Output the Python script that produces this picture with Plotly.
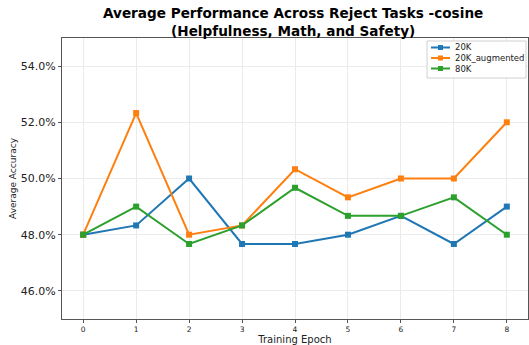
import plotly.graph_objects as go

epochs = [0, 1, 2, 3, 4, 5, 6, 7, 8]
acc_20k = [48.0, 48.33, 50.0, 47.67, 47.67, 48.0, 48.67, 47.67, 49.0]
acc_20k_aug = [48.0, 52.33, 48.0, 48.33, 50.33, 49.33, 50.0, 50.0, 52.0]
acc_80k = [48.0, 49.0, 47.67, 48.33, 49.67, 48.67, 48.67, 49.33, 48.0]

series_names = ["20K", "20K_augmented", "80K"]
series_values = [acc_20k, acc_20k_aug, acc_80k]
series_colors = ["#1f77b4", "#ff7f0e", "#2ca02c"]

y_ticks = [46, 48, 50, 52, 54]
y_tick_text = ["46.0%", "48.0%", "50.0%", "52.0%", "54.0%"]

title_lines = [
    "Average Performance Across Reject Tasks -cosine",
    "(Helpfulness, Math, and Safety)",
]

W, H = 529, 345
M = dict(l=62, r=1, t=38, b=26)
PW, PH = W - M["l"] - M["r"], H - M["t"] - M["b"]


def px_x(x):
    """Pixel column -> paper x fraction."""
    return (x - M["l"]) / PW


def px_y(y):
    """Pixel row (from top) -> paper y fraction."""
    return (H - M["b"] - y) / PH


fig = go.Figure()
for name, vals, color in zip(series_names, series_values, series_colors):
    fig.add_trace(go.Scatter(
        x=epochs, y=vals, name=name, mode="lines+markers",
        line=dict(color=color, width=2),
        marker=dict(symbol="square", size=6, color=color),
        showlegend=False,
    ))

# two-line bold title centred over the plot area
annotations = [dict(
    text="<b>" + "<br>".join(title_lines) + "</b>", xref="paper", yref="paper",
    x=px_x(293), y=px_y(22), xanchor="center", yanchor="middle",
    showarrow=False, borderpad=0, font=dict(size=13.6, color="black"),
)]

# compact legend box in the upper-right corner
shapes = [dict(
    type="rect", xref="paper", yref="paper",
    x0=px_x(427), x1=px_x(526), y0=px_y(78), y1=px_y(41),
    line=dict(color="#d0d0d0", width=1), fillcolor="rgba(255,255,255,0.9)",
    layer="above",
)]
for i, (name, color) in enumerate(zip(series_names, series_colors)):
    yrow = 47.5 + i * 10.5
    shapes.append(dict(
        type="line", xref="paper", yref="paper",
        x0=px_x(431), x1=px_x(450), y0=px_y(yrow), y1=px_y(yrow),
        line=dict(color=color, width=2), layer="above",
    ))
    shapes.append(dict(
        type="rect", xref="paper", yref="paper",
        x0=px_x(438), x1=px_x(443), y0=px_y(yrow + 2.5), y1=px_y(yrow - 2.5),
        line=dict(color=color, width=0), fillcolor=color, layer="above",
    ))
    annotations.append(dict(
        text=name, xref="paper", yref="paper", x=px_x(454), y=px_y(yrow),
        xanchor="left", yanchor="middle", showarrow=False, borderpad=0,
        font=dict(size=8.5, color="#222"),
    ))

fig.update_layout(
    width=W, height=H,
    margin=M,
    paper_bgcolor="white", plot_bgcolor="white",
    font=dict(family="DejaVu Sans", color="#222"),
    shapes=shapes,
    annotations=annotations,
    showlegend=False,
)

fig.update_xaxes(
    range=[-0.4, 8.4], tickvals=epochs, tickfont=dict(size=7.5),
    title=dict(text="Training Epoch", font=dict(size=10), standoff=3),
    showgrid=True, gridcolor="#ebebeb", gridwidth=1,
    showline=True, linecolor="#555", linewidth=1, mirror=True,
    ticks="outside", ticklen=3, tickcolor="#555", zeroline=False,
)
fig.update_yaxes(
    range=[45, 55], tickvals=y_ticks, ticktext=y_tick_text, tickfont=dict(size=11),
    title=dict(text="Average Accuracy", font=dict(size=9), standoff=2),
    showgrid=True, gridcolor="#ebebeb", gridwidth=1,
    showline=True, linecolor="#555", linewidth=1, mirror=True,
    ticks="outside", ticklen=3, tickcolor="#555", zeroline=False,
)

fig.write_html("out.html")
